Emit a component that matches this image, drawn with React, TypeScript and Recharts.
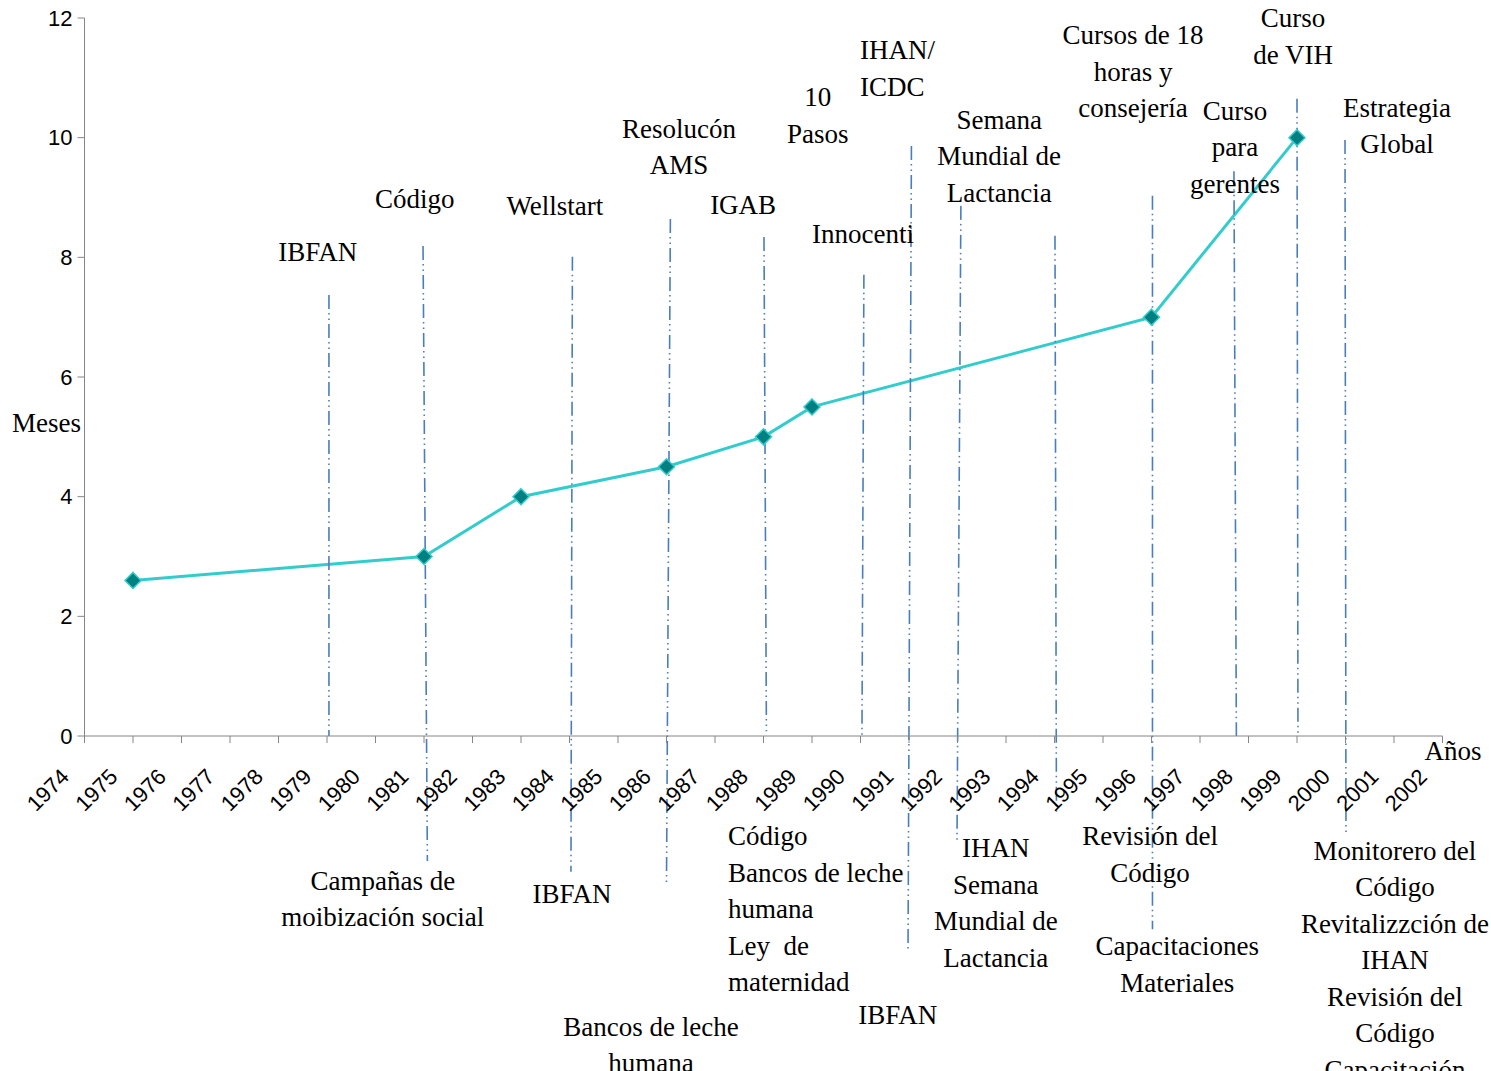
import React from 'react';
import { LineChart, Line, XAxis, YAxis, ReferenceLine, ReferenceDot } from 'recharts';

const years = [1975, 1981, 1983, 1986, 1988, 1989, 1996, 1999];
const months = [2.6, 3.0, 4.0, 4.5, 5.0, 5.5, 7.0, 10.0];

const xTicks = [1974, 1975, 1976, 1977, 1978, 1979, 1980, 1981, 1982, 1983, 1984, 1985, 1986, 1987, 1988,
  1989, 1990, 1991, 1992, 1993, 1994, 1995, 1996, 1997, 1998, 1999, 2000, 2001, 2002];
const yTicks = [0, 2, 4, 6, 8, 10, 12];

// event marker lines: [year top, value top, year bottom, value bottom]
const markerLines = [
  [1979.04, 7.37, 1979.04, 0],
  [1980.98, 8.19, 1981.07, -2.09],
  [1984.06, 8.01, 1984.03, -2.27],
  [1986.08, 8.64, 1986.0, -2.44],
  [1988.01, 8.34, 1988.06, 0.08],
  [1990.07, 7.71, 1990.03, -0.03],
  [1991.05, 9.86, 1990.98, -3.59],
  [1992.07, 8.86, 1991.99, -1.74],
  [1994.01, 8.36, 1994.04, -1.32],
  [1996.02, 9.03, 1996.02, -3.23],
  [1997.7, 9.44, 1997.75, 0],
  [1999.0, 10.65, 1999.02, 0.02],
  [1999.99, 9.96, 2000.01, -1.64],
];

// event notes: year, value of first line, alignment, text lines
const notesAbove = [
  { year: 1978.81, value: 8.09, align: 'middle', lines: ['IBFAN'] },
  { year: 1980.81, value: 8.99, align: 'middle', lines: ['Código'] },
  { year: 1983.7, value: 8.86, align: 'middle', lines: ['Wellstart'] },
  { year: 1986.26, value: 10.16, align: 'middle', lines: ['Resolucón', 'AMS'] },
  { year: 1987.58, value: 8.88, align: 'middle', lines: ['IGAB'] },
  { year: 1989.12, value: 10.68, align: 'middle', lines: ['10', 'Pasos'] },
  { year: 1989.99, value: 11.47, align: 'start', lines: ['IHAN/', 'ICDC'] },
  { year: 1990.05, value: 8.39, align: 'middle', lines: ['Innocenti'] },
  { year: 1992.86, value: 10.31, align: 'middle', lines: ['Semana', 'Mundial de', 'Lactancia'] },
  { year: 1995.62, value: 11.72, align: 'middle', lines: ['Cursos de 18', 'horas y', 'consejería'] },
  { year: 1997.72, value: 10.46, align: 'middle', lines: ['Curso', 'para', 'gerentes'] },
  { year: 1998.92, value: 12.0, align: 'middle', lines: ['Curso', 'de VIH'] },
  { year: 2001.06, value: 10.51, align: 'middle', lines: ['Estrategia', 'Global'] },
];

const notesBelow = [
  { year: 1980.15, value: -2.41, align: 'middle', lines: ['Campañas de', 'moibización social'] },
  { year: 1984.05, value: -2.64, align: 'middle', lines: ['IBFAN'] },
  { year: 1985.68, value: -4.85, align: 'middle', lines: ['Bancos de leche', 'humana'] },
  { year: 1987.27, value: -1.67, align: 'start', lines: ['Código', 'Bancos de leche', 'humana', 'Ley  de', 'maternidad'] },
  { year: 1990.77, value: -4.65, align: 'middle', lines: ['IBFAN'] },
  { year: 1992.79, value: -1.87, align: 'middle', lines: ['IHAN', 'Semana', 'Mundial de', 'Lactancia'] },
  { year: 1995.97, value: -1.67, align: 'middle', lines: ['Revisión del', 'Código'] },
  { year: 1996.53, value: -3.51, align: 'middle', lines: ['Capacitaciones', 'Materiales'] },
  { year: 2001.02, value: -1.91, align: 'middle', lines: ['Monitorero del', 'Código', 'Revitalizzción de', 'IHAN', 'Revisión del', 'Código', 'Capacitación'] },
];

const data = years.map((y, i) => ({ year: y, value: months[i] }));

const SERIF = "'Liberation Serif', 'Times New Roman', serif";
const SANS = "'Liberation Sans', Arial, sans-serif";

const Note = (props: any) => {
  const { cx, cy, lines, align } = props;
  return (
    <text x={cx} y={cy} textAnchor={align} fontFamily={SERIF} fontSize={27} fill="#000" style={{ whiteSpace: 'pre' }}>
      {lines.map((l: string, i: number) => (
        <tspan key={i} x={cx} dy={i === 0 ? '0.35em' : 36.5}>{l}</tspan>
      ))}
    </text>
  );
};

const Diamond = (props: any) => {
  const { cx, cy } = props;
  if (cx == null || cy == null) return null;
  const r = 8;
  return (
    <polygon
      points={`${cx},${cy - r} ${cx + r},${cy} ${cx},${cy + r} ${cx - r},${cy}`}
      fill="#008080"
      stroke="#33CCCC"
      strokeWidth={1.5}
    />
  );
};

const XTick = (props: any) => {
  const { x, y, payload } = props;
  return (
    <g transform={`translate(${x - 14},${y + 33})`}>
      <text transform="rotate(-45)" textAnchor="end" fontFamily={SANS} fontSize={22} fill="#000">
        {payload.value}
      </text>
    </g>
  );
};

export default function App() {
  return (
    <div style={{ position: 'absolute', left: 0, top: 0, background: '#fff' }}>
      <LineChart
        width={1491}
        height={1071}
        data={data}
        margin={{ top: 18, right: 48.5, bottom: 275, left: 0 }}
      >
        <XAxis
          dataKey="year"
          type="number"
          domain={[1974, 2002]}
          ticks={xTicks}
          interval={0}
          tickSize={7}
          tickMargin={2}
          height={60}
          stroke="#868686"
          tick={<XTick />}
          label={{ value: 'Años', position: 'right', offset: -18, dy: -16, fontFamily: SERIF, fontSize: 27, fill: '#000' }}
        />
        <YAxis
          type="number"
          domain={[0, 12]}
          ticks={yTicks}
          interval={0}
          width={84.5}
          tickSize={7}
          tickMargin={5}
          stroke="#868686"
          tick={{ fontFamily: SANS, fontSize: 22, fill: '#000' }}
          label={{ value: 'Meses', position: 'insideLeft', offset: 12, dy: 45, fontFamily: SERIF, fontSize: 27, fill: '#000' }}
        />
        <Line
          dataKey="value"
          stroke="#33CCCC"
          strokeWidth={3}
          dot={<Diamond />}
          activeDot={false}
          isAnimationActive={false}
        />
        {markerLines.map((m, i) => (
          <ReferenceLine
            key={`m${i}`}
            segment={[{ x: m[0], y: m[1] }, { x: m[2], y: m[3] }]}
            ifOverflow="visible"
            stroke="#4A7EBB"
            strokeWidth={1.6}
            strokeDasharray="14 4 1.5 4 1.5 4"
          />
        ))}
        {[...notesAbove, ...notesBelow].map((n, i) => (
          <ReferenceDot
            key={`n${i}`}
            x={n.year}
            y={n.value}
            r={0}
            ifOverflow="visible"
            shape={(p: any) => <Note {...p} lines={n.lines} align={n.align} />}
          />
        ))}
      </LineChart>
    </div>
  );
}
